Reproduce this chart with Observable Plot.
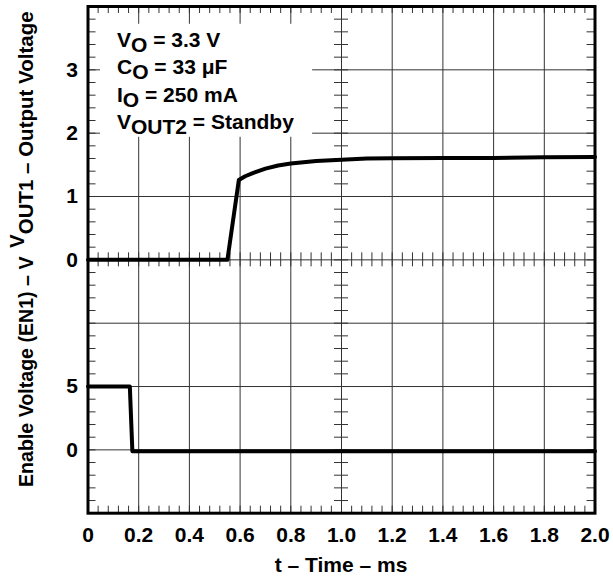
<!DOCTYPE html>
<html><head><meta charset="utf-8">
<script src="https://cdn.jsdelivr.net/npm/d3@7"></script>
<script src="https://cdn.jsdelivr.net/npm/@observablehq/plot@0.6"></script>
<style>body{margin:0;background:#fff} svg{display:block}</style>
</head><body><div id="chart"></div>
<script>
// VOUT1 – output voltage (V) versus time (ms)
const voutTime  = [0, 0.55, 0.595, 0.62, 0.65, 0.70, 0.75, 0.80, 0.90, 1.00, 1.10, 1.20, 1.40, 1.60, 1.80, 2.00];
const voutVolts = [0, 0,    1.26,  1.32, 1.37, 1.44, 1.49, 1.52, 1.56, 1.58, 1.60, 1.605, 1.61, 1.61, 1.62, 1.625];
// EN1 – enable voltage (V) versus time (ms)
const enTime  = [0, 0.165, 0.175, 2.0];
const enVolts = [5, 5,     -0.1,  -0.1];
// axis ticks
const xTicks = [0, 0.2, 0.4, 0.6, 0.8, 1.0, 1.2, 1.4, 1.6, 1.8, 2.0];
const xTickLabels = ["0", "0.2", "0.4", "0.6", "0.8", "1.0", "1.2", "1.4", "1.6", "1.8", "2.0"];
const voutTicks = [0, 1, 2, 3];
const enTicks = [0, 5];
// annotation lines: [main, subscript, rest]
const noteLines = [["V", "O", " = 3.3 V"], ["C", "O", " = 33 \u03BCF"], ["I", "O", " = 250 mA"], ["V", "OUT2", " = Standby"]];

// Both traces share one grid of 8 divisions: upper half 1 V/div (0 V at div 4),
// lower half 5 V/div (0 V at div 1).
const voutDiv = v => 4 + v;
const enDiv = v => 1 + v / 5;

const vout = voutTime.map((t, i) => ({t, d: voutDiv(voutVolts[i])}));
const en = enTime.map((t, i) => ({t, d: enDiv(enVolts[i])}));
const yTicks = [...enTicks.map(enDiv), ...voutTicks.map(voutDiv)];
const yTickLabels = [...enTicks, ...voutTicks].map(String);

const W = 613, H = 577, mL = 87.5, mR = 18.5, mT = 6, mB = 64.3;
const plotH = H - mT - mB;
const gridX = xTicks.filter(v => v > 0 && v < 2);
const gridY = [1, 2, 3, 4, 5, 6, 7];
const minorX = d3.range(0, 51).map(i => i * 0.04);
const minorY = d3.range(0, 41).map(i => i * 0.2);
const tk = 7;
const gridColor = "#333";
const font = "'Liberation Sans', Arial, Helvetica, sans-serif";

const chart = Plot.plot({
  width: W, height: H,
  marginLeft: mL, marginRight: mR, marginTop: mT, marginBottom: mB,
  x: {domain: [0, 2], label: null},
  y: {domain: [0, 8], label: null},
  style: {fontFamily: font, fontSize: "21px", fontWeight: "bold", color: "black", background: "white"},
  marks: [
    Plot.ruleX(gridX, {stroke: gridColor, strokeWidth: 1}),
    Plot.ruleY(gridY, {stroke: gridColor, strokeWidth: 1}),
    Plot.rect([0], {x1: 0.049, x2: 0.886, y1: 5.935, y2: 7.72, fill: "white"}),
    Plot.ruleX(minorX, {insetBottom: plotH - tk, stroke: gridColor}),
    Plot.ruleX(minorX, {insetTop: plotH - tk, stroke: gridColor}),
    Plot.ruleX(minorX, {y1: 4, y2: 4, insetTop: -tk, insetBottom: -tk, stroke: gridColor}),
    Plot.ruleY(minorY, {x1: 0, x2: 0, insetRight: -(tk + 1), stroke: gridColor}),
    Plot.ruleY(minorY, {x1: 2, x2: 2, insetLeft: -(tk + 1), stroke: gridColor}),
    Plot.ruleY(minorY, {x1: 1, x2: 1, insetLeft: -tk, insetRight: -tk, stroke: gridColor}),
    Plot.frame({stroke: "black", strokeWidth: 3}),
    Plot.line(vout, {x: "t", y: "d", stroke: "black", strokeWidth: 4}),
    Plot.line(en, {x: "t", y: "d", stroke: "black", strokeWidth: 4}),
    Plot.axisX(xTicks, {tickSize: 0, tickPadding: 14, label: null,
      tickFormat: d => xTickLabels[xTicks.indexOf(d)]}),
    Plot.axisY(yTicks, {tickSize: 0, tickPadding: 10, label: null,
      tickFormat: d => yTickLabels[yTicks.indexOf(d)]})
  ]
});
document.getElementById("chart").append(chart);

const sx = chart.scale("x").apply;
const svg = d3.select(chart);
const txt = svg.append("g").attr("font-family", font).attr("font-weight", "bold")
  .attr("fill", "black").attr("text-anchor", "start");

// x-axis title
txt.append("text").attr("x", sx(1)).attr("y", 572).attr("text-anchor", "middle")
  .attr("font-size", 21).text("t \u2013 Time \u2013 ms");

// y-axis titles (rotated)
txt.append("text").attr("transform", "translate(33,487) rotate(-90)").attr("font-size", 19.6)
  .text("Enable Voltage (EN1) \u2013 V");
const yt = txt.append("text").attr("transform", "translate(33,248) rotate(-90)").attr("font-size", 20.5);
yt.append("tspan").attr("dy", -9).text("V");
yt.append("tspan").attr("dy", 9).text("OUT1");
yt.append("tspan").text(" \u2013 Output Voltage");

// annotation
const note = txt.append("g").attr("font-size", 21);
noteLines.forEach(([a, sub, rest], i) => {
  const t = note.append("text").attr("x", sx(0.1164)).attr("y", 47 + i * 27.3);
  t.append("tspan").text(a);
  t.append("tspan").attr("dy", 5).text(sub);
  t.append("tspan").attr("dy", -5).text(rest);
});
</script>
</body></html>
